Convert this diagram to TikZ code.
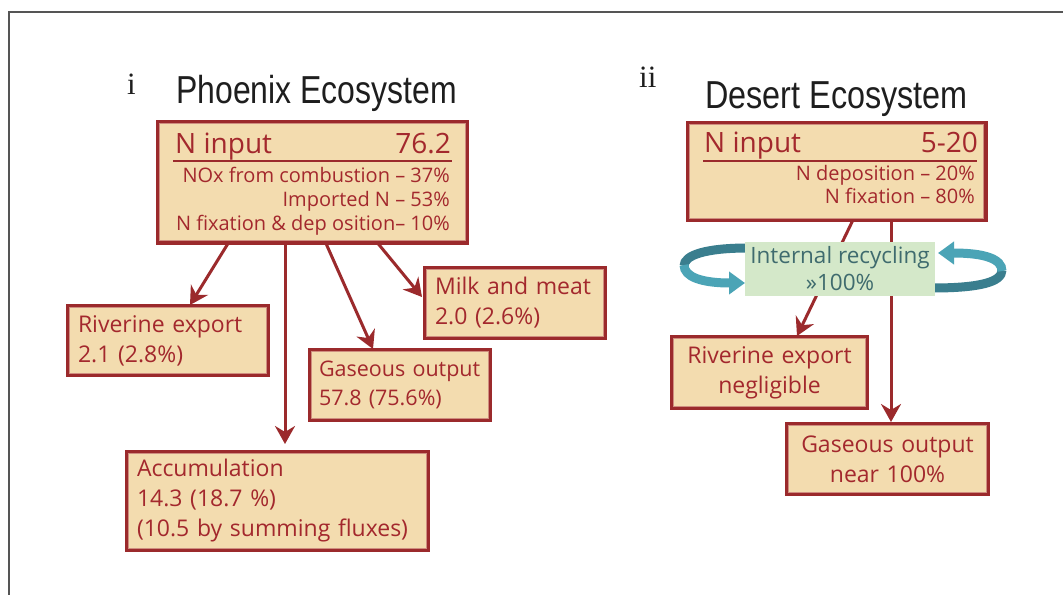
\documentclass[tikz,border=0pt]{standalone}
\usepackage{fontspec}
\setmainfont{Open Sans}
\newfontfamily\titlefont{Liberation Sans}
\newfontfamily\romanfont{Liberation Serif}
\usetikzlibrary{arrows.meta}
\definecolor{bord}{HTML}{9B2A2C}
\definecolor{boxfill}{HTML}{F3DCAF}
\definecolor{boxtext}{HTML}{A3282D}
\definecolor{innerline}{HTML}{CF8E80}
\definecolor{recfill}{HTML}{D4E8C9}
\definecolor{rectext}{HTML}{3F6B6E}
\definecolor{ribdark}{HTML}{3A7E8E}
\definecolor{riblight}{HTML}{4BA4B6}
\definecolor{framec}{HTML}{555555}
\definecolor{titlec}{HTML}{1E1E1E}
\begin{document}
\begin{tikzpicture}[x=1pt,y=-1pt,
  box/.style={draw=bord, line width=4pt, fill=boxfill, inner ysep=0pt, inner xsep=10pt,
    outer sep=0pt, text=boxtext, font=\fontsize{23}{30}\selectfont},
  lbox/.style={box, align=left},
  cbox/.style={box, align=center},
  hdr/.style={inner sep=0pt, text=boxtext, font=\fontsize{28}{28}\selectfont},
  sub/.style={inner sep=0pt, anchor=base east, text=boxtext, font=\fontsize{20}{20}\selectfont},
  arr/.style={draw=bord, line width=3pt, -{Stealth[length=18pt,width=20pt,inset=6pt]}},
  rib/.style={line width=9pt},
  ribtip/.style={-{Triangle[length=16pt,width=22pt]}},
  roman/.style={anchor=base west, inner sep=0pt, text=titlec, font=\romanfont\fontsize{31}{31}\selectfont},
  ttl/.style={anchor=base west, inner sep=0pt, text=titlec, font=\titlefont\fontsize{39}{39}\selectfont},
  inedge/.style={draw=innerline, line width=0.8pt}]
\useasboundingbox (0,0) rectangle (1063,595);
\fill[white] (0,0) rectangle (1063,595);
\draw[framec, line width=1.2pt] (1063,12) -- (9,12) -- (9,595);

% titles
\node[roman] (ti) at (127,94) {i};
\node[ttl] (tphx) at (176,103) {\scalebox{0.82}[1]{Phoenix Ecosystem}};
\node[roman] (tii) at (639,87) {ii};
\node[ttl] (tdes) at (705,108) {\scalebox{0.83}[1]{Desert Ecosystem}};

% Phoenix N input
\node[box, minimum width=309pt, minimum height=121pt] (pin) at (312.5,182) {};
\node[hdr, anchor=base west] (pinh) at (175,153) {N input};
\node[hdr, anchor=base east] (pinv) at (451,153) {76.2};
\draw[bord, line width=2.6pt] (173,161) -- (452,161);
\node[sub] (pin1) at (450,182) {NOx from combustion – 37\%};
\node[sub] (pin2) at (450,206) {Imported N – 53\%};
\node[sub] (pin3) at (450,230) {N fixation \& dep osition– 10\%};

% Phoenix outputs
\node[lbox, text width=180pt, minimum height=69pt] (priv) at (168,340.5) {\mbox{Riverine export}\\\mbox{2.1 (2.8\%)}};
\node[lbox, text width=160pt, minimum height=70pt] (pmilk) at (515,303) {\mbox{Milk and meat}\\\mbox{2.0 (2.6\%)}};
\node[lbox, text width=162pt, inner xsep=9pt, minimum height=70pt, font=\fontsize{21.5}{29}\selectfont] (pgas) at (400,385) {\mbox{Gaseous output}\\\mbox{57.8 (75.6\%)}};
\node[lbox, text width=281pt, minimum height=98pt] (pacc) at (277.5,501) {\mbox{Accumulation}\\\mbox{14.3 (18.7 \%)}\\\mbox{(10.5 by summing fluxes)}};

% Desert N input
\node[box, minimum width=298pt, minimum height=97pt] (din) at (836.5,171.5) {};
\node[hdr, anchor=base west] (dinh) at (704,152) {N input};
\node[hdr, anchor=base east] (dinv) at (978,152) {5-20};
\draw[bord, line width=2.6pt] (703,161) -- (977,161);
\node[sub] (din1) at (975,180) {N deposition – 20\%};
\node[sub] (din2) at (975,203) {N fixation – 80\%};

% Desert outputs
\node[cbox, text width=175pt, minimum height=71pt] (driv) at (769.5,372.5) {\mbox{Riverine export}\\\mbox{negligible}};
\node[cbox, text width=181pt, minimum height=70pt] (dgas) at (887.5,459) {\mbox{Gaseous output}\\\mbox{near 100\%}};

% light inner edge of the box borders
\foreach \n in {pin,priv,pmilk,pgas,pacc,din,driv,dgas}
  \draw[inedge] ([xshift=1.8pt,yshift=-1.8pt]\n.north west) rectangle ([xshift=-1.8pt,yshift=1.8pt]\n.south east);

% connectors
\draw[arr] ([xshift=-84.5pt,yshift=-1pt]pin.south) -- ([xshift=22pt,yshift=1pt]priv.north);
\draw[arr] ([xshift=-27.5pt,yshift=-1pt]pin.south) -- ([xshift=7.5pt,yshift=8pt]pacc.north);
\draw[arr] ([xshift=13.5pt,yshift=-1pt]pin.south) -- ([xshift=-27pt,yshift=1pt]pgas.north);
\draw[arr] ([xshift=65.5pt,yshift=-1pt]pin.south) -- ([xshift=-3pt,yshift=6pt]pmilk.west);
\draw[arr] ([xshift=16pt,yshift=-1pt]din.south) -- ([xshift=27.5pt,yshift=1pt]driv.north);
\draw[arr] ([xshift=54.5pt,yshift=-1pt]din.south) -- ([xshift=3.5pt,yshift=2pt]dgas.north);

% recycling ribbons
\draw[rib, ribdark] (748,248) .. controls (706,248) and (684,255) .. (684,266);
\draw[rib, riblight, ribtip] (684,265) .. controls (684,277) and (702,283) .. (745,283);
\draw[rib, ribdark] (932,288) .. controls (980,288) and (1002,282) .. (1002,270);
\draw[rib, riblight, ribtip] (1002,271) .. controls (1002,259) and (985,253) .. (938,253);

% recycling box
\node[fill=recfill, inner sep=0pt, minimum width=190pt, minimum height=54pt, align=center,
  text=rectext, font=\fontsize{22.5}{27}\selectfont] (rec) at (840,269) {Internal recycling\\»100\%};
\end{tikzpicture}
\end{document}
